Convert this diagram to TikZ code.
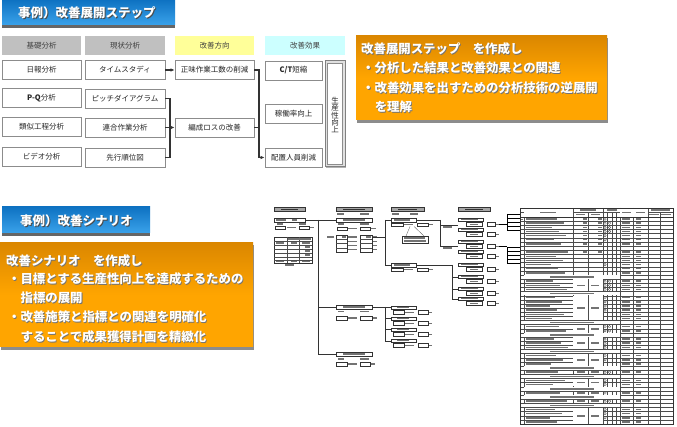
\documentclass[tikz,border=0pt]{standalone}
\usepackage{fontspec}
\setmainfont{Noto Sans CJK JP}
\usetikzlibrary{arrows.meta,shadows}
\definecolor{hgray}{HTML}{C0C0C0}
\definecolor{hyel}{HTML}{FFFF99}
\definecolor{hcyan}{HTML}{CCFFFF}
\definecolor{obody}{HTML}{FFA500}
\definecolor{otop}{HTML}{DB8700}
\definecolor{btop}{HTML}{0E72C2}
\definecolor{bbot}{HTML}{3AA2EA}
\definecolor{linec}{HTML}{333333}
\tikzset{
 hdr/.style={minimum width=80pt,minimum height=19pt,inner sep=0pt,font=\fontsize{7.5}{9}\selectfont,text=black!75},
 bx/.style={draw=black!45,line width=0.9pt,fill=white,minimum width=79pt,minimum height=19pt,inner sep=0pt,
   font=\fontsize{7.5}{9}\selectfont,text=black!85,
   drop shadow={shadow xshift=0.9pt,shadow yshift=-0.9pt,fill=black!30,opacity=1}},
 conn/.style={draw=linec,line width=1.3pt},
 arr/.style={conn,-{Latex[length=4pt,width=3.6pt]}},
 ttl/.style={font=\bfseries\fontsize{12.5}{14}\selectfont,text=white,inner sep=0pt,anchor=west},
 ttls/.style={ttl,text=black!70},
 otxt/.style={font=\bfseries\fontsize{12.4}{14}\selectfont,text=white,inner sep=0pt,anchor=west},
 otxts/.style={otxt,text=black!55},
 tb/.style={draw=black!80,line width=0.4pt,fill=white},
 tbh/.style={draw=black!80,line width=0.4pt,fill=black!35},
 tl/.style={draw=black!80,line width=0.4pt},
 tg/.style={draw=black!70,line width=0.3pt},
 bar/.style={fill=black!55,draw=none},
 dbar/.style={fill=black!80,draw=none},
}
\newcommand\shtxt[5]{%
 \node[#2s] (#1s) at (#3+0.8,#4+0.8) {#5};
 \node[#2] (#1) at (#3,#4) {#5};}
\begin{document}
\begin{tikzpicture}[x=1pt,y=-1pt]
\useasboundingbox (0,0) rectangle (677,427);
\fill[white] (0,0) rectangle (677,427);

% ---------- title 1 ----------
\fill[black!60] (2,24) rectangle (175,28);
\shade[top color=btop,bottom color=bbot] (2,0) rectangle (175,25);
\shtxt{t1}{ttl}{18}{13}{事例）改善展開ステップ}

% ---------- headers ----------
\node[hdr,fill=hgray,minimum width=79pt] (h1) at (41.5,45.5) {基礎分析};
\node[hdr,fill=hgray] (h2) at (125,45.5) {現状分析};
\node[hdr,fill=hyel,minimum width=79pt] (h3) at (214.5,45.5) {改善方向};
\node[hdr,fill=hcyan] (h4) at (305,45.5) {改善効果};

% ---------- column 1 ----------
\node[bx] (a1) at (41.5,69.5) {日報分析};
\node[bx] (a2) at (41.5,98) {{\bfseries P-Q}分析};
\node[bx] (a3) at (41.5,126.5) {類似工程分析};
\node[bx] (a4) at (41.5,156.5) {ビデオ分析};
% ---------- column 2 ----------
\node[bx,minimum width=80pt] (ts) at (125,70) {タイムスタディ};
\node[bx,minimum width=80pt] (pd) at (125,98.5) {ピッチダイアグラム};
\node[bx,minimum width=80pt] (rg) at (125,127.5) {連合作業分析};
\node[bx,minimum width=80pt] (sk) at (125,157.5) {先行順位図};
% ---------- column 3 ----------
\node[bx] (sh) at (214.5,70) {正味作業工数の削減};
\node[bx] (hs) at (214.5,127.5) {編成ロスの改善};
% ---------- column 4 ----------
\node[bx,minimum width=57pt] (ct) at (293.5,70.5) {{\bfseries C/T}短縮};
\node[bx,minimum width=57pt] (kd) at (293.5,113.5) {稼働率向上};
\node[bx,minimum width=57pt] (hc) at (293.5,157.5) {配置人員削減};
% ---------- productivity ----------
\node[draw=black!50,line width=1pt,fill=black!12,minimum width=20pt,minimum height=106pt,inner sep=0pt,
  drop shadow={shadow xshift=0.9pt,shadow yshift=-0.9pt,fill=black!30,opacity=1}] (sp) at (335,114) {};
\node[draw=black!45,line width=0.6pt,fill=white,minimum width=15pt,minimum height=101pt,inner sep=0pt] (spi) at (335,114) {};
\node[align=center,inner sep=0pt,font=\fontsize{7.5}{7.3}\selectfont,text=black!85] (spt) at (335,115) {生\\産\\性\\向\\上};

% ---------- connectors ----------
\coordinate (j1) at (170,127.5);
\coordinate (j2) at (259,127.5);
\draw[arr] (ts.east) -- (sh.west);
\draw[conn] (pd.east) -| (j1) |- (sk.east);
\draw[conn] (rg.east) -- (j1);
\draw[arr] (j1) -- (hs.west);
\draw[arr] (sh.east) -| (j2) |- (hc.west);
\draw[conn] (hs.east) -- (j2);

% ---------- orange box 1 ----------
\fill[black!45] (357,38) rectangle (608,123);
\shade[top color=otop,bottom color=obody,middle color=obody] (356,36) rectangle (607,120);
\shtxt{o1}{otxt}{361}{49}{改善展開ステップ　を作成し}
\shtxt{o2}{otxt}{362}{68}{・分析した結果と改善効果との関連}
\shtxt{o3}{otxt}{362}{88}{・改善効果を出すための分析技術の逆展開}
\shtxt{o4}{otxt}{374.6}{107}{を理解}

% ---------- title 2 ----------
\fill[black!60] (2,232) rectangle (150,236);
\shade[top color=btop,bottom color=bbot] (2,207) rectangle (150,233);
\shtxt{t2}{ttl}{20}{221}{事例）改善シナリオ}

% ---------- orange box 2 ----------
\fill[black!45] (1,245) rectangle (254,350);
\shade[top color=otop,bottom color=obody,middle color=obody] (0,243) rectangle (253,347);
\shtxt{p1}{otxt}{6}{261}{改善シナリオ　を作成し}
\shtxt{p2}{otxt}{8}{279}{・目標とする生産性向上を達成するための}
\shtxt{p3}{otxt}{20.4}{298}{指標の展開}
\shtxt{p4}{otxt}{8}{317}{・改善施策と指標との関連を明確化}
\shtxt{p5}{otxt}{20.4}{337}{することで成果獲得計画を精緻化}

% ================= thumbnail scenario diagram =================
% column headers
\foreach \xa/\xb in {274/305,336/372,391/424,458/490}{
  \draw[tbh] (\xa,207) rectangle (\xb,211.5);
  \fill[dbar] (\xa+7,208.6) rectangle (\xb-7,210);
}
% col 1
\draw[tb] (274,218) rectangle (305,222);
\fill[bar] (276,219.3) rectangle (286,220.8); \fill[bar] (292,219.3) rectangle (297,220.8);
\fill[bar] (277,223.5) rectangle (283,225); \fill[bar] (299,223.5) rectangle (306,225);
\draw[tb] (275,226) rectangle (285,229.5); \draw[tb] (299,226) rectangle (309,229.5);
\fill[bar] (287,227.2) rectangle (296,228.4); \fill[bar] (310,227.2) rectangle (314,228.4);
\draw[tb] (274,237) rectangle (312,263);
\draw[tg] (287,237) -- (287,263) (299,237) -- (299,263);
\foreach \y in {241,245,249,253,257,260}{\draw[tg] (274,\y) -- (312,\y);}
\fill[bar] (288,238.3) rectangle (311,239.8);
\fill[bar] (276,242.3) rectangle (284,243.8); \fill[bar] (291,242.3) rectangle (297,243.8); \fill[bar] (302,242.3) rectangle (310,243.8);
\foreach \y in {246.3,250.3,254.3}{\fill[bar] (305,\y) rectangle (310,\y+1.3);}
\fill[bar] (276,261) rectangle (284,262.3); \fill[bar] (291,261) rectangle (297,262.3); \fill[bar] (302,261) rectangle (310,262.3);
\fill[bar] (285,264.5) rectangle (294,266);
% trunk
\draw[tl] (305,220) -- (336,220);
\draw[tl] (318,220) -- (318,355);
\draw[tl] (318,307) -- (336,307);
\draw[tl] (318,354) -- (336,354);
% col 2
\fill[bar] (337,213) rectangle (344,214.6); \fill[bar] (360,213) rectangle (369,214.6);
\draw[tb] (336,218) rectangle (372,222);
\fill[bar] (343,219.3) rectangle (365,220.8);
\fill[bar] (338,223.5) rectangle (344,225); \fill[bar] (360,223.5) rectangle (369,225);
\draw[tb] (337,227) rectangle (347,230.5); \draw[tb] (360,227) rectangle (370,230.5);
\fill[bar] (348,228.2) rectangle (357,229.4); \fill[bar] (371,228.2) rectangle (376,229.4);
\fill[bar] (327,236.5) rectangle (334,238);
\draw[tb] (336,235) rectangle (347,252); \draw[tb] (360,235) rectangle (372,252);
\foreach \y in {239.25,243.5,247.75}{\draw[tg] (336,\y) -- (347,\y) (360,\y) -- (372,\y);}
\foreach \y in {236.5,240.8,245,249.3}{\fill[bar] (348,\y) rectangle (357,\y+1.2); \fill[bar] (373,\y) rectangle (377,\y+1.2);}
\fill[bar] (342,236.5) rectangle (346,237.7); \fill[bar] (366,236.5) rectangle (371,237.7);
\draw[tl] (372,237) -- (385,237);
\draw[tl] (385,220) -- (385,265);
\draw[tl] (385,220) -- (391,220);
\draw[tl] (385,265) -- (391,265);
% col 2 lower
\draw[tb] (336,305) rectangle (372,309);
\fill[bar] (343,306.3) rectangle (365,307.8);
\fill[bar] (338,311) rectangle (344,312.5); \fill[bar] (360,311) rectangle (369,312.5);
\draw[tb] (336,316) rectangle (347,320); \draw[tb] (360,316) rectangle (372,320);
\fill[bar] (348,317.4) rectangle (357,318.6); \fill[bar] (373,317.4) rectangle (377,318.6);
\draw[tb] (336,352) rectangle (372,356);
\fill[bar] (343,353.3) rectangle (365,354.8);
\fill[bar] (338,358) rectangle (344,359.5); \fill[bar] (360,358) rectangle (369,359.5);
\draw[tb] (336,362) rectangle (347,366); \draw[tb] (360,362) rectangle (370,366);
\fill[bar] (348,363.4) rectangle (357,364.6); \fill[bar] (371,363.4) rectangle (375,364.6);
\draw[tl] (372,307) -- (385,307);
\draw[tl] (385,307) -- (385,341);
\foreach \y in {307.5,318.5,329.5,341}{\draw[tl] (385,\y) -- (391,\y);}
% col 3
\fill[bar] (392,213) rectangle (399,214.6); \fill[bar] (410,213) rectangle (418,214.6);
\draw[tb] (391,218) rectangle (416,222);
\fill[bar] (394,219.3) rectangle (410,220.8);
\draw[tb] (391,223) rectangle (403,226.5); \draw[tb] (417,223) rectangle (428,226.5);
\fill[bar] (404,224.2) rectangle (413,225.4); \fill[bar] (429,224.2) rectangle (433,225.4);
\draw[tg] (410,226.5) -- (406,236) (414,226.5) -- (424,236);
\draw[tb] (402,236) rectangle (428,243);
\fill[bar] (404,237.3) rectangle (425,238.6); \fill[bar] (404,240.3) rectangle (426,241.6);
\draw[tb] (391,263) rectangle (416,267);
\fill[bar] (394,264.3) rectangle (410,265.8);
\draw[tb] (391,268) rectangle (403,271.5); \draw[tb] (417,268) rectangle (428,271.5);
\fill[bar] (404,269.2) rectangle (413,270.4); \fill[bar] (429,269.2) rectangle (433,270.4);
\foreach \y in {306,317,328,339}{
  \draw[tb] (391,\y) rectangle (416,\y+3.5);
  \fill[bar] (397,\y+1.1) rectangle (409,\y+2.4);
  \draw[tb] (393,\y+4.5) rectangle (404,\y+8); \draw[tb] (418,\y+4.5) rectangle (428,\y+8);
  \fill[bar] (405,\y+5.7) rectangle (414,\y+6.9); \fill[bar] (429,\y+5.7) rectangle (432,\y+6.9);
}
% col3 -> col4
\draw[tl] (416,220) -- (440,220) |- (458,225);
\draw[tl] (440,220) |- (458,246);
\fill[bar] (443,226.5) rectangle (452,228); \fill[bar] (443,247.5) rectangle (452,249);
\draw[tl] (416,265) -- (452,265);
\draw[tl] (452,265) -- (452,299);
\foreach \y in {277,289,299}{\draw[tl] (452,\y) -- (458,\y);}
% col 4
\foreach \y in {218,228,240,250,263,275,287,297}{
  \draw[tb] (458,\y) rectangle (483,\y+3.5);
  \fill[bar] (461,\y+1.1) rectangle (478,\y+2.4);
  \draw[tb] (466,\y+4.5) rectangle (482,\y+8); \draw[tb] (487,\y+4.5) rectangle (495,\y+8);
  \fill[bar] (470,\y+5.7) rectangle (478,\y+6.9); \fill[bar] (496,\y+5.7) rectangle (499,\y+6.9);
}
% brackets to table
\draw[line width=0.8pt] (499,224) -- (507,224);
\draw[line width=0.8pt] (507,214) -- (507,230);
\foreach \y in {214,218,222,226,230}{\draw[line width=0.8pt] (507,\y) -- (520,\y);}
\draw[line width=0.8pt] (499,246) -- (507,246);
\draw[line width=0.8pt] (507,247) -- (507,263);
\foreach \y in {247,251,255,259,263}{\draw[line width=0.8pt] (507,\y) -- (520,\y);}

% ---------- table ----------
\foreach \i in {1,...,49}{\draw[tg] (520,{217+\i*4.14}) -- (673,{217+\i*4.14});}
\foreach \x in {524,573,588,603,607,612,616,620,633,648,660}{\draw[tg] (\x,212.5) -- (\x,424);}
\draw[tg] (520,212.5) -- (673,212.5);
\draw[tl] (520,217) -- (673,217);
\draw[tg] (524,208) -- (524,217) (573,208) -- (573,217) (603,208) -- (603,217) (620,208) -- (620,217) (633,208) -- (633,217) (648,208) -- (648,217);
\fill[white] (524.3,208.3) rectangle (572.7,216.7);
\fill[white] (620.3,208.3) rectangle (632.7,216.7);
\fill[white] (633.3,208.3) rectangle (647.7,216.7);
\fill[bar] (540,211.6) rectangle (556,213.3);
\fill[bar] (580,209.2) rectangle (596,210.6); \fill[bar] (607,209.2) rectangle (617,210.6);
\fill[bar] (622,211.6) rectangle (631,213.3); \fill[bar] (636,211.6) rectangle (645,213.3);
\fill[bar] (651,209.2) rectangle (670,210.6);
\fill[bar] (576,214) rectangle (585,215.5); \fill[bar] (591,214) rectangle (600,215.5);
\fill[bar] (649,214) rectangle (659,215.5); \fill[bar] (661,214) rectangle (671,215.5);
\fill[bar] (521,219) rectangle (523,220.5);
% section rows
\foreach \i in {15,19,26,29,33,37,39,42,44,46}{
  \fill[white] (524.3,{217+(\i-1)*4.14+0.25}) rectangle (619.7,{217+\i*4.14-0.25});
  \fill[bar] (550,{217+(\i-1)*4.14+1.3}) rectangle (594,{217+(\i-1)*4.14+2.8});
}
% item bars & responsible columns
\foreach \i [count=\c] in {1,2,3,4,5,6,7,9,10,11,12,13,14,16,17,18,20,21,22,23,24,25,27,28,30,31,32,34,35,36,38,40,41,43,45,47,48,49,50}{
  \pgfmathsetmacro\yt{217+(\i-1)*4.14}
  \pgfmathsetmacro\L{24+mod(\c*7,19)}
  \fill[bar] (526,\yt+1.3) rectangle (526+\L,\yt+2.8);
  \fill[bar] (622,\yt+1.3) rectangle (630,\yt+2.8);
  \fill[bar] (636,\yt+1.3) rectangle (641,\yt+2.8);
}
% individual values rows
\foreach \i in {1,2,3,4,5,6,7,9}{
  \pgfmathsetmacro\yt{217+(\i-1)*4.14}
  \fill[bar] (583,\yt+1.3) rectangle (587,\yt+2.8);
  \fill[bar] (598,\yt+1.3) rectangle (602,\yt+2.8);
}
% merged value blocks
\foreach \a/\b in {16/18,20/25,27/28,30/32,34/36,40/41,47/50}{
  \pgfmathsetmacro\ya{217+(\a-1)*4.14}
  \pgfmathsetmacro\yb{217+\b*4.14}
  \pgfmathsetmacro\ym{(\ya+\yb)/2}
  \fill[white] (573.3,\ya+0.25) rectangle (602.7,\yb-0.25);
  \draw[tg] (588,\ya) -- (588,\yb);
  \fill[bar] (577,\ym-0.8) rectangle (585,\ym+0.8);
  \fill[bar] (591,\ym-0.8) rectangle (599,\ym+0.8);
}
\foreach \i in {38,43,45}{
  \pgfmathsetmacro\yt{217+(\i-1)*4.14}
  \fill[bar] (577,\yt+1.3) rectangle (585,\yt+2.8);
  \fill[bar] (591,\yt+1.3) rectangle (599,\yt+2.8);
}
% check circles
\foreach \i in {1,2,3,4,5,6,12,16,17,18,20,21,22,23,27,28,30,31,32,34,35,38,40,41,43,45,47,48,49}{
  \draw[black!70,line width=0.3pt] (605,{217+(\i-0.5)*4.14}) circle (1.3);
}
\foreach \i in {2,3,4,16,17,18,27,28,38,45}{
  \draw[black!70,line width=0.3pt] (609.5,{217+(\i-0.5)*4.14}) circle (1.3);
}
\draw[tl] (520,208) rectangle (673,424);
\end{tikzpicture}
\end{document}
